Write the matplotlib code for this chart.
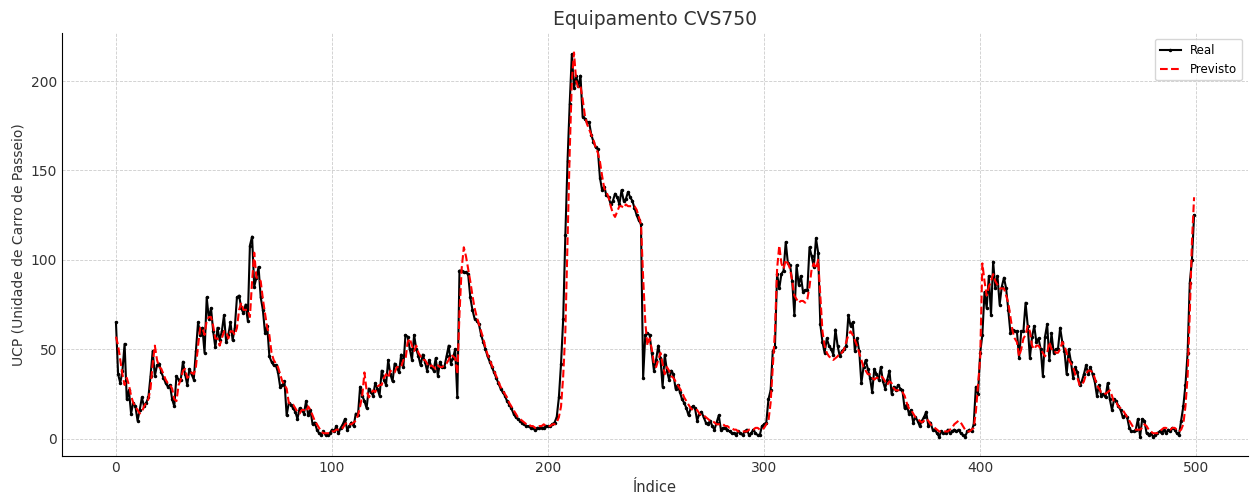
import matplotlib
matplotlib.use("Agg")
import matplotlib.pyplot as plt

# Real UCP values (index 0..499)
real = [
    65, 36, 31, 38, 53, 22, 27, 14, 20, 18,
    10, 16, 23, 18, 20, 23, 35, 49, 35, 41,
    42, 37, 34, 31, 29, 30, 22, 18, 35, 33,
    33, 43, 36, 30, 39, 36, 33, 49, 65, 58,
    62, 48, 79, 67, 73, 60, 51, 62, 55, 60,
    69, 54, 58, 65, 55, 62, 79, 80, 73, 70,
    75, 66, 108, 113, 85, 90, 96, 79, 72, 59,
    63, 46, 43, 41, 41, 37, 29, 30, 32, 13,
    20, 19, 17, 15, 11, 17, 16, 14, 21, 13,
    16, 8, 9, 5, 3, 2, 4, 2, 2, 3,
    5, 4, 7, 3, 6, 8, 11, 5, 7, 9,
    7, 14, 13, 29, 24, 21, 17, 28, 26, 24,
    31, 28, 24, 38, 33, 30, 44, 36, 32, 42,
    40, 37, 47, 40, 58, 57, 50, 44, 58, 50,
    46, 41, 47, 43, 38, 44, 40, 38, 45, 35,
    43, 40, 40, 46, 52, 42, 45, 50, 23, 94,
    94, 93, 93, 92, 79, 72, 67, 66, 64, 58,
    54, 50, 46, 43, 40, 37, 34, 31, 28, 26,
    24, 21, 19, 17, 14, 12, 11, 10, 9, 8,
    7, 7, 6, 6, 5, 6, 6, 6, 6, 7,
    7, 7, 8, 9, 12, 23, 42, 67, 114, 155,
    187, 215, 196, 203, 197, 203, 180, 179, 177, 177,
    170, 166, 163, 162, 146, 139, 141, 136, 135, 131,
    133, 137, 135, 131, 139, 133, 134, 138, 135, 133,
    129, 125, 122, 120, 34, 58, 59, 58, 48, 38,
    44, 52, 45, 29, 47, 38, 33, 38, 36, 28,
    30, 26, 22, 20, 17, 13, 17, 18, 17, 10,
    14, 15, 12, 9, 8, 10, 7, 5, 9, 13,
    5, 6, 6, 5, 4, 3, 3, 2, 4, 3,
    2, 4, 5, 2, 3, 5, 3, 2, 2, 7,
    8, 9, 22, 27, 49, 51, 92, 84, 92, 94,
    110, 98, 97, 88, 69, 97, 86, 91, 82, 83,
    83, 107, 102, 96, 112, 104, 64, 54, 48, 56,
    52, 50, 47, 61, 52, 46, 49, 50, 52, 69,
    63, 65, 49, 56, 49, 31, 40, 44, 39, 34,
    26, 39, 36, 33, 40, 32, 28, 33, 38, 25,
    29, 27, 30, 28, 27, 17, 19, 14, 16, 9,
    12, 10, 7, 10, 12, 15, 7, 9, 5, 5,
    3, 1, 4, 3, 3, 5, 3, 4, 5, 4,
    5, 3, 2, 1, 4, 5, 4, 8, 29, 25,
    48, 58, 82, 73, 91, 69, 99, 84, 91, 75,
    85, 90, 84, 72, 59, 61, 60, 60, 45, 60,
    60, 76, 63, 45, 57, 63, 54, 56, 50, 35,
    57, 64, 44, 59, 48, 50, 50, 62, 54, 49,
    36, 50, 43, 34, 40, 37, 30, 32, 36, 41,
    36, 40, 36, 32, 24, 30, 24, 25, 23, 31,
    22, 16, 22, 21, 18, 16, 12, 13, 12, 6,
    4, 4, 5, 11, 1, 11, 10, 3, 2, 3,
    1, 2, 3, 4, 3, 5, 3, 5, 4, 6,
    5, 3, 2, 10, 18, 30, 48, 87, 100, 125,
]

# Predicted values
previsto = [
    57, 52, 44, 36, 30, 34, 30, 24, 20, 18,
    16, 14, 15, 18, 20, 22, 28, 42, 52, 44,
    40, 39, 36, 33, 31, 30, 28, 22, 21, 30,
    33, 38, 39, 34, 35, 37, 36, 40, 52, 62,
    62, 58, 66, 68, 68, 63, 56, 56, 52, 56,
    60, 60, 56, 60, 60, 58, 62, 72, 76, 72,
    72, 72, 68, 88, 104, 90, 90, 88, 78, 70,
    62, 58, 48, 44, 42, 40, 36, 32, 30, 28,
    20, 19, 19, 17, 15, 14, 16, 16, 15, 18,
    16, 13, 10, 8, 6, 4, 3, 3, 3, 3,
    4, 4, 5, 5, 5, 6, 8, 9, 8, 8,
    9, 10, 13, 18, 24, 37, 27, 23, 25, 27,
    26, 29, 30, 30, 34, 36, 34, 38, 37, 37,
    40, 40, 40, 44, 44, 54, 56, 52, 49, 52,
    48, 46, 44, 44, 42, 40, 41, 40, 39, 41,
    40, 40, 41, 42, 44, 47, 46, 45, 36, 70,
    95, 107, 102, 95, 88, 80, 73, 68, 64, 60,
    56, 51, 47, 44, 41, 38, 35, 32, 29, 27,
    25, 23, 20, 18, 16, 14, 12, 11, 10, 9,
    8, 8, 7, 7, 6, 6, 7, 7, 8, 7,
    7, 7, 8, 8, 9, 12, 18, 35, 60, 110,
    160, 200, 216, 200, 196, 197, 190, 181, 176, 173,
    170, 167, 163, 160, 155, 147, 140, 138, 135, 130,
    126, 124, 127, 130, 130, 129, 131, 130, 130, 130,
    130, 128, 124, 120, 90, 65, 52, 56, 50, 42,
    40, 44, 48, 42, 36, 40, 38, 35, 34, 32,
    30, 28, 26, 23, 21, 19, 17, 16, 16, 16,
    14, 13, 13, 12, 11, 10, 10, 9, 8, 8,
    8, 8, 7, 7, 6, 6, 5, 5, 4, 4,
    4, 4, 4, 5, 5, 5, 6, 6, 5, 5,
    6, 8, 10, 20, 40, 60, 95, 108, 98, 95,
    100, 98, 95, 88, 80, 78, 76, 77, 77, 76,
    78, 85, 95, 98, 95, 100, 80, 60, 52, 48,
    46, 45, 44, 45, 46, 48, 48, 50, 54, 58,
    60, 58, 55, 52, 48, 44, 40, 38, 36, 36,
    34, 33, 34, 34, 35, 34, 32, 30, 32, 31,
    28, 27, 27, 27, 26, 24, 20, 17, 16, 14,
    12, 11, 10, 9, 10, 11, 10, 8, 7, 6,
    5, 4, 4, 4, 4, 4, 5, 6, 8, 9,
    10, 9, 7, 5, 4, 4, 5, 6, 15, 30,
    45, 98, 88, 80, 85, 88, 92, 88, 86, 84,
    84, 84, 80, 76, 68, 60, 56, 54, 46, 50,
    56, 58, 63, 60, 52, 50, 52, 52, 50, 48,
    46, 48, 54, 50, 50, 48, 48, 50, 54, 52,
    48, 44, 42, 40, 36, 34, 30, 30, 32, 36,
    38, 38, 37, 34, 30, 28, 26, 26, 25, 26,
    27, 24, 20, 20, 18, 17, 16, 14, 12, 10,
    8, 6, 5, 5, 5, 6, 8, 7, 5, 4,
    3, 3, 3, 4, 5, 6, 6, 5, 5, 6,
    6, 5, 4, 5, 8, 18, 35, 70, 110, 135,
]

indices = list(range(len(real)))

fig, ax = plt.subplots(figsize=(12.51, 4.96), dpi=100)
fig.subplots_adjust(left=0.0496, right=0.9976, top=0.933, bottom=0.0806)

ax.plot(indices, real, color="black", linewidth=1.5, marker=".", markersize=3, label="Real")
ax.plot(indices, previsto, color="red", linestyle="--", linewidth=1.5, label="Previsto")

ax.set_title("Equipamento CVS750", fontsize=13.5, color="#333333")
ax.set_xlabel("Índice", fontsize=10.5, color="#333333")
ax.set_ylabel("UCP (Unidade de Carro de Passeio)", fontsize=10, color="#333333")

ax.grid(True, linestyle="--", linewidth=0.6, color="#cccccc")
ax.spines["top"].set_visible(False)
ax.spines["right"].set_visible(False)
ax.tick_params(colors="#333333", labelsize=10, length=0)
ax.legend(loc="upper right", fontsize=8.5, handlelength=1.8)

fig.savefig("out.png", dpi=100)
